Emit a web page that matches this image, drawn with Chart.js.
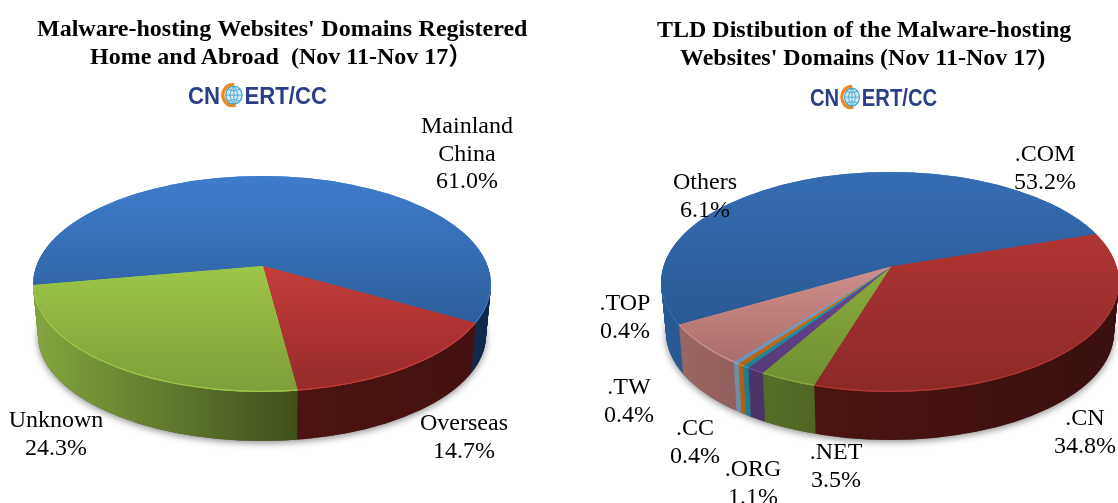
<!DOCTYPE html>
<html>
<head>
<meta charset="utf-8">
<title>Malware-hosting Websites' Domains</title>
<script src="https://cdn.jsdelivr.net/npm/chart.js@4/dist/chart.umd.min.js"></script>
<style>
    html, body { margin: 0; padding: 0; background: #fff; overflow: hidden; }
    #page { position: relative; width: 1118px; height: 503px; overflow: hidden; }
    canvas { position: absolute; top: 0; }
    .titulo { position: absolute; white-space: nowrap; color: #000;
        font: bold 24px/28px "Liberation Serif", "Noto Sans CJK SC", serif; }
    .logo { position: absolute; white-space: nowrap; transform-origin: left top; color: #2a3f85;
        font: bold 27px/27px "Liberation Sans", sans-serif; }
    .logo svg { display: inline-block; vertical-align: -4px; margin: 0 -1px; }
</style>
</head>
<body>
<div id="page">
    <canvas id="graficoOrigen" width="559" height="503" style="left:0"></canvas>
    <canvas id="graficoTld" width="559" height="503" style="left:559px"></canvas>

    <div class="titulo" style="left:37px;top:14px;word-spacing:0.6px">Malware-hosting Websites' Domains Registered</div>
    <div class="titulo" style="left:90px;top:42px">Home and Abroad &nbsp;(Nov 11-Nov 17）</div>
    <div class="titulo" style="left:657px;top:15px">TLD Distibution of the Malware-hosting</div>
    <div class="titulo" style="left:680px;top:43px">Websites' Domains (Nov 11-Nov 17)</div>

    <div class="logo" style="left:188px;top:83px;transform:scale(0.82,0.9)"><span>CN</span><svg width="32" height="27" viewBox="0 0 32 27"><circle cx="16" cy="13.5" r="11.5" fill="none" stroke="#ee8a1c" stroke-width="4" stroke-dasharray="42 30" transform="rotate(70 16 13.5)"/><circle cx="18" cy="13.5" r="10" fill="#cfe9f5" stroke="#3fa5cf" stroke-width="1.5"/><path d="M8 13.5h20M18 3.5v20M11 7c5 2 9 2 14 0M11 20c5-2 9-2 14 0M18 3.5c-6 6-6 14 0 20M18 3.5c6 6 6 14 0 20" fill="none" stroke="#3fa5cf" stroke-width="1"/></svg><span>ERT/CC</span></div>
    <div class="logo" style="left:810px;top:85px;transform:scale(0.75,0.9)"><span>CN</span><svg width="32" height="27" viewBox="0 0 32 27"><circle cx="16" cy="13.5" r="11.5" fill="none" stroke="#ee8a1c" stroke-width="4" stroke-dasharray="42 30" transform="rotate(70 16 13.5)"/><circle cx="18" cy="13.5" r="10" fill="#cfe9f5" stroke="#3fa5cf" stroke-width="1.5"/><path d="M8 13.5h20M18 3.5v20M11 7c5 2 9 2 14 0M11 20c5-2 9-2 14 0M18 3.5c-6 6-6 14 0 20M18 3.5c6 6 6 14 0 20" fill="none" stroke="#3fa5cf" stroke-width="1"/></svg><span>ERT/CC</span></div>
</div>

<script>
    // Datos
    const categoriasOrigen = [['Mainland', 'China'], 'Overseas', 'Unknown'];
    const valoresOrigen = [61.0, 14.7, 24.3];

    const categoriasTld = ['.COM', '.CN', '.NET', '.ORG', '.CC', '.TW', '.TOP', 'Others'];
    const valoresTld = [53.2, 34.8, 3.5, 1.1, 0.4, 0.4, 0.4, 6.1];

    // Colores: cara superior [arriba, abajo], pared [izquierda, derecha]
    const caraOrigen = [['#3e7dcb', '#2d5e9c'], ['#c53d39', '#952b29'], ['#9dc649', '#7e9e3a']];
    const paredOrigen = [['#1a3a63', '#11284a'], ['#4d1412', '#441110'], ['#84a53e', '#3f4f1c']];
    const caraTld = [['#356cb2', '#2a5a95'], ['#b03533', '#8a2927'], ['#8aab3d', '#6f8f33'], ['#6b4b91', '#553a78'],
        ['#2a9ab0', '#1f8093'], ['#e07c20', '#b86010'], ['#7da6cc', '#6a90b8'], ['#d08f8d', '#aa6c6a']];
    const paredTld = [['#2a5a95', '#1d4474'], ['#4a1412', '#3a0f0f'], ['#566f27', '#48591f'], ['#4c3468', '#43305e'],
        ['#1f7f90', '#1b7080'], ['#b0600f', '#a0560d'], ['#6f8fae', '#5f7f9e'], ['#9a6662', '#7f5050']];

    // Posición de las etiquetas (centro x, y de la primera línea)
    const posOrigen = [[467, 127], [464, 424], [56, 421]];
    const posTld = [[486, 155], [526, 419], [277, 453], [194, 470], [136, 429], [70, 388], [66, 304], [146, 183]];

    const RADIO_ARCO = 420;

    // Borde del sector sobre la elipse, para saber qué zona ocupa en pantalla
    function cajaSector(el, g) {
        let minX = g.apexX, maxX = g.apexX, minY = g.apexY, maxY = g.apexY;
        for (let i = 0; i <= 60; i++) {
            const a = el.startAngle + (el.endAngle - el.startAngle) * i / 60;
            const dx = Math.cos(a), dy = g.k * Math.sin(a);
            const ox = (g.apexX - g.cx) / g.rx, oy = (g.apexY - g.cy) / g.ry;
            const ux = dx / g.rx, uy = dy / g.ry;
            const A = ux * ux + uy * uy, B = 2 * (ox * ux + oy * uy), C = ox * ox + oy * oy - 1;
            const t = (-B + Math.sqrt(B * B - 4 * A * C)) / (2 * A);
            const x = g.apexX + dx * t, y = g.apexY + dy * t;
            minX = Math.min(minX, x); maxX = Math.max(maxX, x);
            minY = Math.min(minY, y); maxY = Math.max(maxY, y);
        }
        return { minX, maxX, minY, maxY };
    }

    function pintarCapa(ctx, arcos, g, dy, encoge, rellenos, veces, subeClip) {
        ctx.save();
        ctx.beginPath();
        ctx.ellipse(g.cx, g.cy + dy - (subeClip || 0), g.rx - encoge, g.ry - encoge * 0.4, 0, 0, Math.PI * 2);
        ctx.clip();
        ctx.translate(g.apexX, g.apexY + dy);
        ctx.scale(1, g.k);
        ctx.translate(-arcos[0].x, -arcos[0].y);
        for (let v = 0; v < veces; v++) {
            arcos.forEach((el, i) => {
                const original = el.options;
                el.options = Object.assign({}, original, { backgroundColor: rellenos[i] });
                el.draw(ctx);
                el.options = original;
            });
        }
        ctx.restore();
    }

    // Plugin: tarta en 3D a partir de los arcos de Chart.js
    const tarta3d = {
        id: 'tarta3d',
        beforeDatasetsDraw(chart, args, opts) {
            const ctx = chart.ctx;
            const g = opts.geo;
            const arcos = chart.getDatasetMeta(0).data;
            const cx0 = arcos[0].x, cy0 = arcos[0].y;

            const cajas = arcos.map(el => cajaSector(el, g));
            const rellenoPared = arcos.map((el, i) => {
                const c = cajas[i];
                const grad = ctx.createLinearGradient(cx0 + c.minX - g.apexX, 0, cx0 + c.maxX - g.apexX, 0);
                grad.addColorStop(0, opts.pared[i][0]);
                grad.addColorStop(1, opts.pared[i][1]);
                return grad;
            });
            const rellenoCara = arcos.map((el, i) => {
                const c = cajas[i];
                const grad = ctx.createLinearGradient(0, cy0 + (c.minY - g.apexY) / g.k, 0, cy0 + (c.maxY - g.apexY) / g.k);
                grad.addColorStop(0, opts.cara[i][0]);
                grad.addColorStop(1, opts.cara[i][1]);
                return grad;
            });
            const rellenoBorde = opts.cara.map(c => c[0]);

            // sombra suave debajo
            ctx.save();
            ctx.shadowColor = 'rgba(0,0,0,0.45)';
            ctx.shadowBlur = 7;
            ctx.shadowOffsetY = 2;
            ctx.fillStyle = '#555';
            ctx.beginPath();
            ctx.ellipse(g.cx, g.cy + g.fondo, g.rx - g.encoge, g.ry - g.encoge * 0.4, 0, 0, Math.PI * 2);
            ctx.fill();
            ctx.restore();

            // pared
            for (let dy = g.fondo; dy > 0; dy--) {
                pintarCapa(ctx, arcos, g, dy, g.encoge * dy / g.fondo, rellenoPared, 1);
            }
            // canto claro y cara superior
            pintarCapa(ctx, arcos, g, 0, 0, rellenoBorde, 2);
            pintarCapa(ctx, arcos, g, 0, 0.5, rellenoCara, 2, 1.2);
            return false;
        },
        afterDraw(chart, args, opts) {
            const ctx = chart.ctx;
            ctx.save();
            ctx.fillStyle = '#000';
            ctx.font = '24px "Liberation Serif", serif';
            ctx.textAlign = 'center';
            ctx.textBaseline = 'middle';
            chart.data.labels.forEach((nombre, i) => {
                const valor = chart.data.datasets[0].data[i].toFixed(1) + '%';
                const lineas = [].concat(nombre, valor);
                lineas.forEach((txt, n) => {
                    ctx.fillText(txt, opts.pos[i][0], opts.pos[i][1] + n * 27.5);
                });
            });
            ctx.restore();
        }
    };

    function crearTarta(id, labels, valores, rotacion, geo, cara, pared, pos) {
        new Chart(document.getElementById(id).getContext('2d'), {
            type: 'pie',
            data: {
                labels: labels,
                datasets: [{
                    data: valores,
                    backgroundColor: cara.map(c => c[0]),
                    borderWidth: 0,
                    clip: false
                }]
            },
            options: {
                responsive: false,
                animation: false,
                rotation: rotacion,
                radius: RADIO_ARCO,
                plugins: {
                    legend: { display: false },
                    tooltip: { enabled: false },
                    tarta3d: { geo: geo, cara: cara, pared: pared, pos: pos }
                }
            },
            plugins: [tarta3d]
        });
    }

    document.addEventListener('DOMContentLoaded', function() {
        crearTarta('graficoOrigen', categoriasOrigen, valoresOrigen, 260,
            { cx: 262, cy: 284.5, rx: 229, ry: 107.5, apexX: 263, apexY: 266, k: 0.47, fondo: 51, encoge: 5 },
            caraOrigen, paredOrigen, posOrigen);
        crearTarta('graficoTld', categoriasTld, valoresTld, 239.8,
            { cx: 331, cy: 282.5, rx: 229, ry: 109.5, apexX: 332, apexY: 266.5, k: 0.47, fondo: 50, encoge: 5 },
            caraTld, paredTld, posTld);
    });
</script>
</body>
</html>
